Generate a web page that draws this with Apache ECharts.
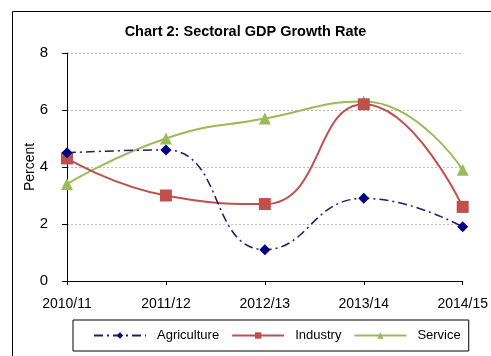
<!DOCTYPE html>
<html>
<head>
<meta charset="utf-8">
<script src="https://cdn.jsdelivr.net/npm/echarts@6/dist/echarts.min.js"></script>
<style>
    html, body { margin: 0; padding: 0; background: #fff; }
    #chart-gdp { width: 491px; height: 356px; }
</style>
</head>
<body>
<div id="chart-gdp"></div>
<script>
let years = ['2010/11', '2011/12', '2012/13', '2013/14', '2014/15'];
let agriculture = [4.5, 4.6, 1.1, 2.9, 1.9];
let industry = [4.3, 3.0, 2.7, 6.2, 2.6];
let service = [3.4, 5.0, 5.7, 6.3, 3.9];
let yTicks = [0, 2, 4, 6, 8];

let myChart = echarts.init(document.getElementById('chart-gdp'));
let fontName = 'Liberation Sans';

let option = {
    animation: false,
    textStyle: {fontFamily: fontName},
    title: {
        text: 'Chart 2: Sectoral GDP Growth Rate',
        left: 'center',
        top: 19,
        textStyle: {fontSize: 14.5, fontWeight: 'bold', color: '#000', fontFamily: fontName}
    },
    graphic: [{
        type: 'rect',
        shape: {x: 12.5, y: 11.5, width: 520, height: 400},
        style: {fill: 'none', stroke: '#000', lineWidth: 1}
    }],
    grid: {left: 67, right: 27, top: 53, bottom: 75},
    legend: {
        bottom: 5,
        left: 73,
        itemWidth: 52,
        itemHeight: 8,
        itemGap: 12,
        padding: [9, 8, 9, 20],
        borderColor: '#000',
        borderWidth: 1,
        textStyle: {fontSize: 13, color: '#000', fontFamily: fontName, padding: [0, 0, 0, 6]},
        data: ['Agriculture', 'Industry', 'Service']
    },
    xAxis: {
        type: 'category',
        data: years,
        boundaryGap: false,
        axisLine: {lineStyle: {color: '#000', width: 1}},
        axisTick: {show: true, length: 4, alignWithLabel: true, lineStyle: {color: '#000'}},
        axisLabel: {fontSize: 14, color: '#000', margin: 16, interval: 0}
    },
    yAxis: {
        type: 'value',
        min: yTicks[0],
        max: yTicks[yTicks.length - 1],
        interval: 2,
        name: 'Percent',
        nameLocation: 'middle',
        nameGap: 30,
        nameMoveOverlap: false,
        nameTextStyle: {fontSize: 14, color: '#000'},
        axisLine: {show: true, lineStyle: {color: '#000', width: 1}},
        axisTick: {show: true, length: 5, lineStyle: {color: '#000'}},
        axisLabel: {fontSize: 15, color: '#000', margin: 19},
        splitLine: {lineStyle: {color: '#bbb', type: [2, 2], width: 1}}
    },
    series: [
        {
            name: 'Agriculture',
            type: 'line',
            data: agriculture,
            smooth: 0.5,
            symbol: 'diamond',
            symbolSize: 11,
            itemStyle: {color: '#000080'},
            lineStyle: {color: '#1c1c6e', width: 1.5, type: [9, 4, 2, 4]},
            z: 3
        },
        {
            name: 'Industry',
            type: 'line',
            data: industry,
            smooth: 0.5,
            symbol: 'rect',
            symbolSize: 12,
            itemStyle: {color: '#c0504d'},
            lineStyle: {color: '#c0504d', width: 2},
            z: 2
        },
        {
            name: 'Service',
            type: 'line',
            data: service,
            smooth: 0.5,
            symbol: 'triangle',
            symbolSize: 12,
            itemStyle: {color: '#9bbb59'},
            lineStyle: {color: '#9bbb59', width: 2},
            z: 1
        }
    ]
};
option && myChart.setOption(option);
</script>
</body>
</html>
